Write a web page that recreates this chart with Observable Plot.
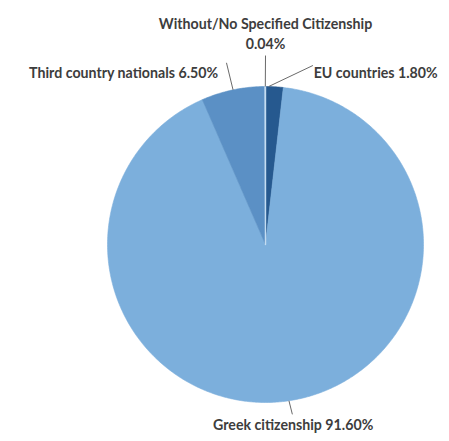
<!DOCTYPE html>
<html>
<head>
<meta charset="utf-8">
<script src="https://cdn.jsdelivr.net/npm/d3@7"></script>
<script src="https://cdn.jsdelivr.net/npm/@observablehq/plot@0.6"></script>
<style>
html, body { margin: 0; padding: 0; background: #fff; }
</style>
</head>
<body>
<div id="chart"></div>
<script>
// Data (clockwise from 12 o'clock)
const categories = ["EU countries", "Greek citizenship", "Third country nationals", "Without/No Specified Citizenship"];
const values = [1.80, 91.60, 6.50, 0.04];
const valueLabels = ["1.80%", "91.60%", "6.50%", "0.04%"];
const colors = ["#26598f", "#7cafdc", "#5b90c5", "#b9d5ee"];

// Label layout (unit-circle coordinates, radius = 1)
const labelX = [0.305, 0.175, -0.30, 0.0];
const labelY = [1.085, -1.148, 1.085, 1.34];
const leaderStartX = [0.02, null, null, null];
const leaderEndX = [0.30, 0.17, -0.247, 0.0];
const leaderEndY = [1.133, -1.075, 1.15, 1.196];

const total = d3.sum(values);
const slices = [];
let acc = 0;
categories.forEach((c, i) => {
  const a0 = acc / total * 2 * Math.PI;
  acc += values[i];
  const a1 = acc / total * 2 * Math.PI;
  const n = Math.max(2, Math.ceil((a1 - a0) / 0.01));
  slices.push({cat: c, x: 0, y: 0, k: 0});
  for (let j = 0; j <= n; j++) {
    const a = a0 + (a1 - a0) * j / n;
    slices.push({cat: c, x: Math.sin(a), y: Math.cos(a), k: j + 1});
  }
  slices.push({cat: c, x: 0, y: 0, k: n + 2});
});

let acc2 = 0;
const mids = categories.map((c, i) => {
  const m = (acc2 + values[i] / 2) / total * 2 * Math.PI;
  acc2 += values[i];
  return m;
});

const leaders = categories.map((c, i) => ({
  x1: leaderStartX[i] != null ? leaderStartX[i] : Math.sin(mids[i]),
  y1: leaderStartX[i] != null ? Math.sqrt(1 - leaderStartX[i] ** 2) : Math.cos(mids[i]),
  x2: leaderEndX[i], y2: leaderEndY[i]
}));

const labels = categories.map((c, i) => ({
  cat: c, text: c + " " + valueLabels[i], x: labelX[i], y: labelY[i]
}));
// The "Without" label is two lines
labels[3].text = categories[3] + "\n" + valueLabels[3];

const fs = 14.2;
const txt = {x: "x", y: "y", text: "text", fontSize: fs, fontWeight: "bold", fill: "#3d3d3d"};

const chart = Plot.plot({
  width: 449,
  height: 441,
  marginLeft: 107,
  marginRight: 26,
  marginTop: 86,
  marginBottom: 39,
  x: {domain: [-1, 1], axis: null},
  y: {domain: [-1, 1], axis: null},
  color: {domain: categories, range: colors},
  style: {fontFamily: "Lato, 'Open Sans', sans-serif", background: "#fff", overflow: "visible"},
  marks: [
    Plot.line(slices, {x: "x", y: "y", z: "cat", fill: "cat", stroke: "cat", strokeWidth: 0.6, curve: "linear"}),
    Plot.line(slices.filter(d => d.cat === categories[3]), {x: "x", y: "y", stroke: "#c4dcf1", strokeWidth: 1.4}),
    Plot.link(leaders, {x1: "x1", y1: "y1", x2: "x2", y2: "y2", stroke: "#6a6a6a", strokeWidth: 1}),
    Plot.text([labels[0]], {...txt, textAnchor: "start"}),
    Plot.text([labels[1]], {...txt, textAnchor: "middle"}),
    Plot.text([labels[2]], {...txt, textAnchor: "end"}),
    Plot.text([labels[3]], {...txt, textAnchor: "middle", lineHeight: 1.42})
  ]
});
document.getElementById("chart").appendChild(chart);
</script>
</body>
</html>
